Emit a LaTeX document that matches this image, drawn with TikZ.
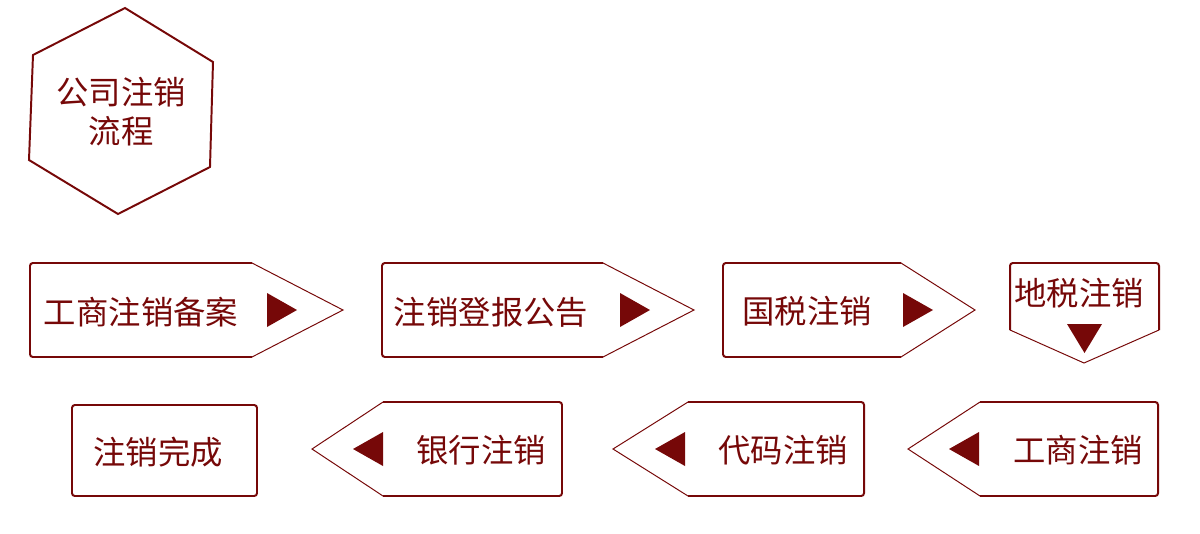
\documentclass[tikz,border=0pt]{standalone}
\usepackage{fontspec}
\newfontfamily\cjk{Noto Sans CJK SC}
\usepackage{tikz}
\usetikzlibrary{calc}

\begin{document}
\begin{tikzpicture}[x=0.025cm,y=-0.025cm]

% --- STYLES ---
\definecolor{wine}{RGB}{118,8,8}
\tikzset{
  frame/.style={draw=wine, line width=1.4pt, rounded corners=2pt},
  edge/.style={draw=wine, line width=0.7pt},
  pointer/.style={fill=wine},
  steplabel/.style={text=wine, font=\cjk\fontsize{23}{27.7}\selectfont,
                    align=center, inner sep=0pt},
}

% --- BOX MACROS ---
% right pointing: left, arm, tip, top, bottom, triangle left
\newcommand{\boxright}[6]{
  \draw[frame] (#2,#4) -- (#1,#4) -- (#1,#5) -- (#2,#5);
  \draw[edge] (#2,#4) -- (#3,{(#4+#5)/2}) -- (#2,#5);
  \fill[pointer] (#6,{(#4+#5)/2-17}) -- (#6+30,{(#4+#5)/2}) -- (#6,{(#4+#5)/2+17}) -- cycle;
}
% left pointing: right, arm, tip, top, bottom, triangle right
\newcommand{\boxleft}[6]{
  \draw[frame] (#2,#4) -- (#1,#4) -- (#1,#5) -- (#2,#5);
  \draw[edge] (#2,#4) -- (#3,{(#4+#5)/2}) -- (#2,#5);
  \fill[pointer] (#6,{(#4+#5)/2-17}) -- (#6-30,{(#4+#5)/2}) -- (#6,{(#4+#5)/2+17}) -- cycle;
}

\useasboundingbox (0,0) rectangle (1200,533);

% ================= TITLE HEXAGON =================
\draw[wine, line width=1.4pt] (125,8) -- (213,62) -- (210,167) -- (118,214) -- (29,160) -- (33,55) -- cycle;
\node[steplabel] (title) at (121,112) {公司注销\\流程};

% ================= ROW 1 =================
\boxright{30}{252}{343}{263}{357}{267}
\node[steplabel] (s1) at (141,312) {工商注销备案};

\boxright{382}{603}{694}{263}{357}{620}
\node[steplabel] (s2) at (491,312) {注销登报公告};

\boxright{723}{901}{975}{263}{357}{903}
\node[steplabel] (s3) at (807,311) {国税注销};

% --- down pointing ---
\draw[frame] (1010,330) -- (1010,263) -- (1159,263) -- (1159,330);
\draw[edge] (1010,330) -- (1084,363) -- (1159,330);
\fill[pointer] (1067,324) -- (1102,324) -- (1084.5,353) -- cycle;
\node[steplabel] (s4) at (1079,293) {地税注销};

% ================= ROW 2 =================
\boxleft{1158}{980}{908}{402}{496}{979}
\node[steplabel] (s5) at (1078,450) {工商注销};

\boxleft{864}{688}{613}{402}{496}{685}
\node[steplabel] (s6) at (783,450) {代码注销};

\boxleft{562}{383}{312}{402}{496}{383}
\node[steplabel] (s7) at (481,450) {银行注销};

% --- final ---
\draw[frame] (72,405) rectangle (257,496);
\node[steplabel] (s8) at (158,452) {注销完成};

\end{tikzpicture}
\end{document}
